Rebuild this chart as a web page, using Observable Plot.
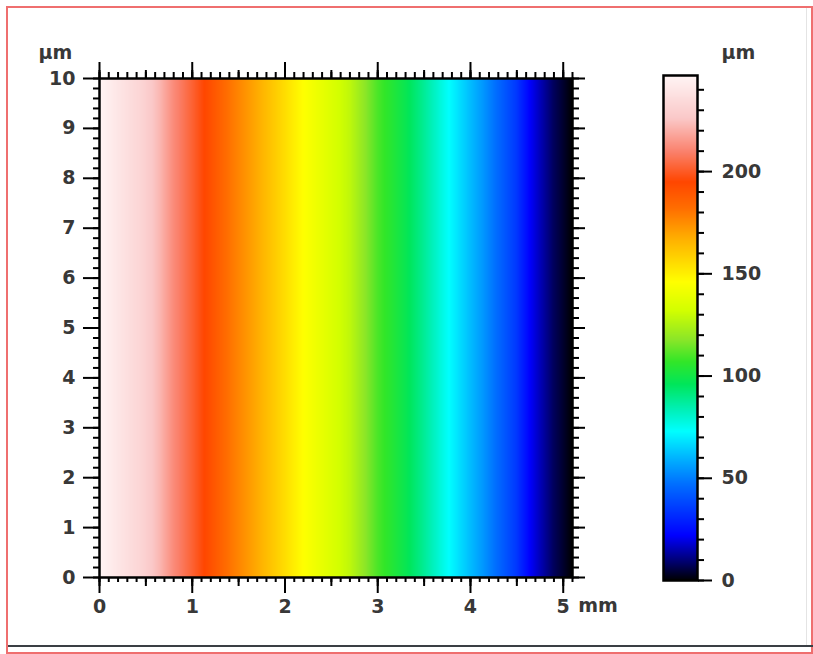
<!DOCTYPE html>
<html><head><meta charset="utf-8">
<script src="https://cdn.jsdelivr.net/npm/d3@7"></script>
<script src="https://cdn.jsdelivr.net/npm/@observablehq/plot@0.6"></script>
<style>
html,body{margin:0;padding:0;background:#fff;}
#wrap{position:relative;width:813px;height:654px;overflow:hidden;background:#fff;}
#wrap svg{position:absolute;top:0;}
#border{position:absolute;left:6px;top:6px;width:807px;height:648px;border:2px solid #ef6f6f;box-sizing:border-box;}
#bline{position:absolute;left:8px;top:645px;width:805px;height:2px;background:#3a3f44;}
#vline{position:absolute;left:806px;top:8px;width:1px;height:637px;background:#e4e4e4;}
</style></head>
<body>
<div id="wrap"><div id="border"></div><div id="bline"></div><div id="vline"></div></div>
<script>
// Height profile read across the map (x in mm, height in µm); constant along y
const profileX = [0, 0.2, 0.45, 0.65, 0.8, 1.0, 1.13, 1.42, 1.82, 2.2, 2.7, 3.0, 3.3, 3.5, 3.77, 4.13, 4.49, 4.64, 4.89, 5.1];
const profileZ = [247, 240, 232, 222, 212, 202, 195, 180, 163, 146, 128, 110, 98, 88, 73, 55, 35, 22, 8, 0];
const yExtent = [0, 10];
const xTicks = [0, 1, 2, 3, 4, 5];
const yTicks = [0, 1, 2, 3, 4, 5, 6, 7, 8, 9, 10];
const cbTicks = [0, 50, 100, 150, 200];
const zMax = 247;
const xUnit = "mm";
const yUnit = "µm";
const zUnit = "µm";
const colorDomain = [0, 10, 22, 47, 60, 73, 84, 96, 107, 118, 132, 146, 166, 182, 195, 210, 226, 247];
const colorRange = ["#000000","#000078","#0000ff","#006eff","#00b4ff","#00ffff","#00f0b4","#00e65a","#32e628","#8ce628","#d2ff00","#ffff00","#ffb400","#ff6e00","#ff4600","#fa826e","#fac8c8","#fff5f5"];

const points = [];
for (const yv of yExtent) profileX.forEach((xv, i) => points.push({x: xv, y: yv, z: profileZ[i]}));

const colorOpts = {type: "linear", domain: colorDomain, range: colorRange, interpolate: "rgb", clamp: true};
const style = {background: "transparent", fontFamily: "DejaVu Sans", fontSize: "19px", fontWeight: "bold", overflow: "visible"};
const ink = {stroke: "#000", fill: "#383838", strokeWidth: 2, label: null};
const blank = () => "";
const intFmt = d3.format("d");

const main = Plot.plot({
  width: 640, height: 654,
  marginLeft: 99, marginRight: 68, marginTop: 78, marginBottom: 77,
  x: {domain: [0, 5.1]},
  y: {domain: yExtent},
  color: colorOpts,
  style,
  marks: [
    Plot.raster(points, {x: "x", y: "y", fill: "z", interpolate: "barycentric", x1: 0, x2: 5.1, y1: 0, y2: 10}),
    Plot.frame({stroke: "#000", strokeWidth: 2.5}),
    Plot.axisY({anchor: "left", ticks: yTicks, tickSize: 16, tickPadding: 8, tickFormat: intFmt, ...ink}),
    Plot.axisY({anchor: "left", ticks: 50, tickSize: 6, tickFormat: blank, ...ink}),
    Plot.axisY({anchor: "right", ticks: yTicks, tickSize: 12, tickFormat: blank, ...ink}),
    Plot.axisY({anchor: "right", ticks: 50, tickSize: 6, tickFormat: blank, ...ink}),
    Plot.axisX({anchor: "bottom", ticks: xTicks, tickSize: 16, tickPadding: 6, tickFormat: intFmt, ...ink}),
    Plot.axisX({anchor: "bottom", ticks: 10, tickSize: 9, tickFormat: blank, ...ink}),
    Plot.axisX({anchor: "bottom", ticks: 51, tickSize: 5, tickFormat: blank, ...ink}),
    Plot.axisX({anchor: "top", ticks: xTicks, tickSize: 17, tickFormat: blank, ...ink}),
    Plot.axisX({anchor: "top", ticks: 10, tickSize: 9, tickFormat: blank, ...ink}),
    Plot.axisX({anchor: "top", ticks: 51, tickSize: 7, tickFormat: blank, ...ink}),
    Plot.text([yUnit], {frameAnchor: "top-left", dx: -44, dy: -33, textAnchor: "middle", fill: "#383838"}),
    Plot.text([xUnit], {x: 5, frameAnchor: "bottom", dx: 15, dy: 34, textAnchor: "start", fill: "#383838"})
  ]
});
main.style.left = "0px";

const bar = Plot.plot({
  width: 213, height: 654,
  marginLeft: 63, marginRight: 116, marginTop: 75, marginBottom: 74,
  x: {domain: [0, 1], axis: null},
  y: {domain: [0, zMax]},
  color: colorOpts,
  style,
  marks: [
    Plot.raster({fill: (x, y) => y, x1: 0, x2: 1, y1: 0, y2: zMax}),
    Plot.frame({stroke: "#000", strokeWidth: 2.5}),
    Plot.axisY({anchor: "right", ticks: cbTicks, tickSize: 14, tickPadding: 10, tickFormat: intFmt, ...ink}),
    Plot.axisY({anchor: "right", ticks: 25, tickSize: 6, tickFormat: blank, ...ink}),
    Plot.text([zUnit], {frameAnchor: "top-right", dx: 41, dy: -30, textAnchor: "middle", fill: "#383838"})
  ]
});
bar.style.left = "600px";

const wrap = document.getElementById("wrap");
wrap.appendChild(main);
wrap.appendChild(bar);
</script>
</body></html>
